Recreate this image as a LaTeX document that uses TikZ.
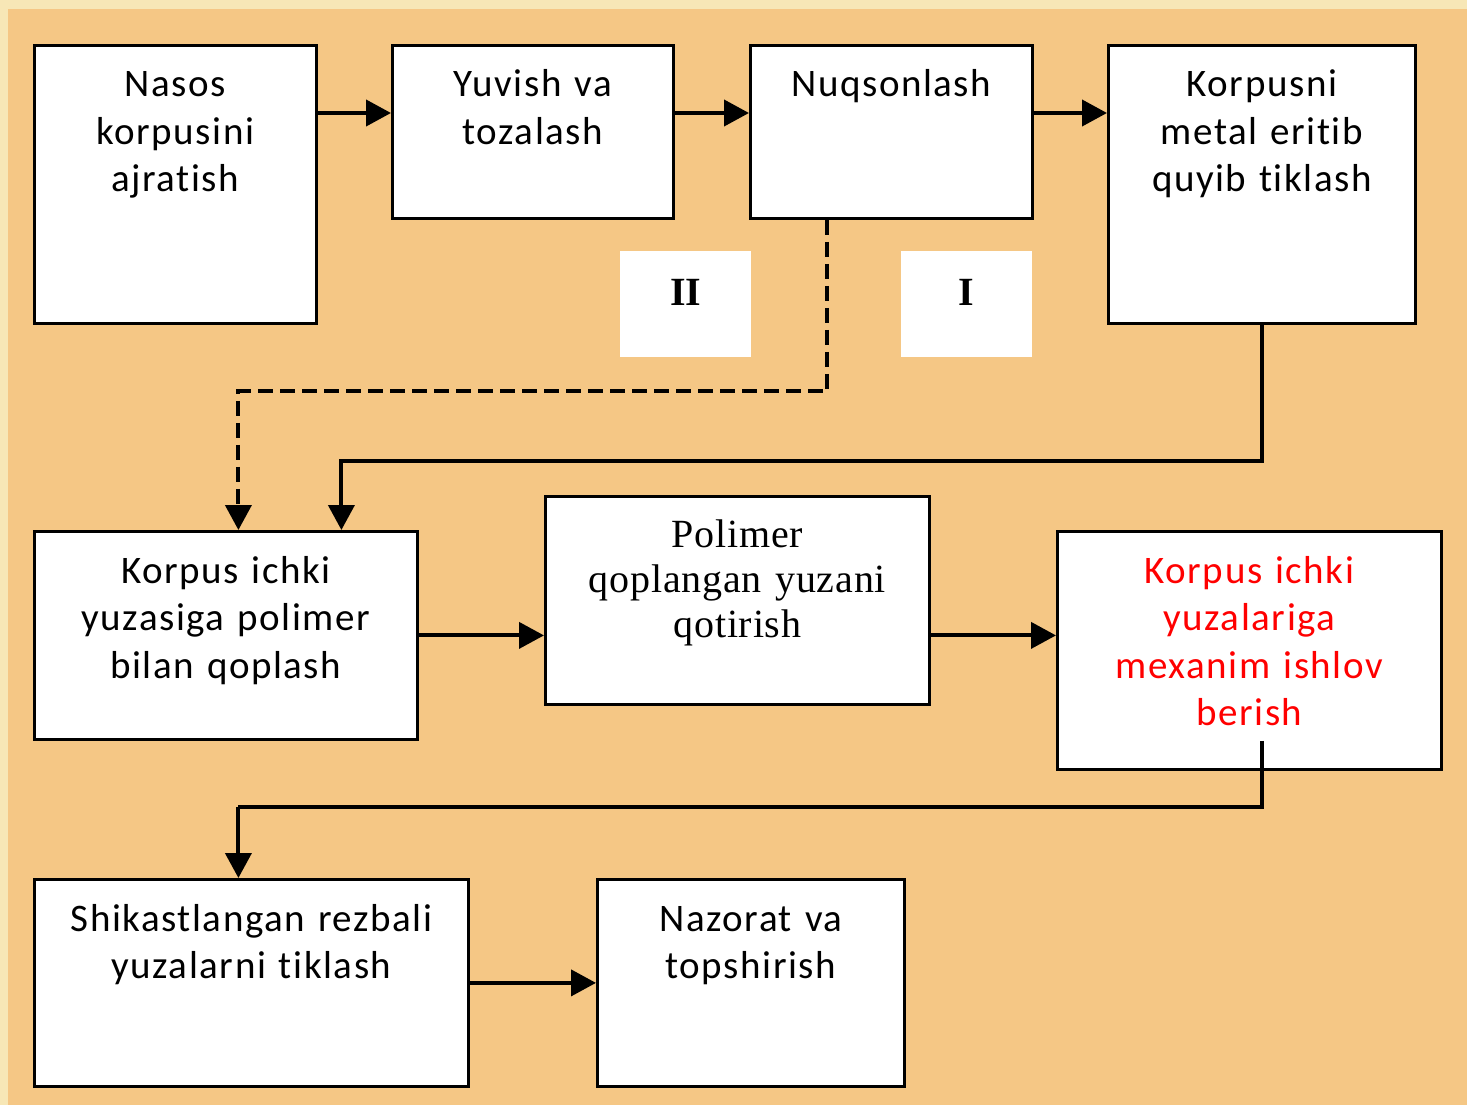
\documentclass[tikz,border=0pt]{standalone}
\usepackage{fontspec}
\setmainfont[Ligatures=NoCommon, LetterSpace=4]{Carlito}
\newfontfamily\timesf[LetterSpace=2]{Liberation Serif}
\newfontfamily\timesbf{Liberation Serif}
\usetikzlibrary{arrows.meta}
\definecolor{bgtan}{HTML}{F5C785}
\definecolor{bgcream}{HTML}{F7E7B6}
\definecolor{txtred}{HTML}{FF0000}
\begin{document}
\begin{tikzpicture}[x=1pt, y=-1pt,
    box/.style={draw, line width=2.8pt, fill=white, anchor=north west, inner sep=0pt},
    rim/.style={fill=white, minimum width=131pt, minimum height=106pt, anchor=north west, inner sep=0pt},
    txt/.style={anchor=base, text width=300pt, align=center, inner sep=0pt,
      font=\fontsize{39}{47.5}\selectfont},
    serif/.style={font=\timesf\fontsize{40}{45}\selectfont},
    rimtxt/.style={font=\timesbf\bfseries\fontsize{40}{40}\selectfont, inner sep=0pt},
    arr/.style={line width=4pt, -{Triangle[length=25pt,width=26pt]}},
    dashln/.style={arr, dash pattern=on 15pt off 7pt}]
  \useasboundingbox (0,0) rectangle (1467,1105);
  \fill[bgcream] (0,0) rectangle (1467,1105);
  \fill[bgtan] (8,9) rectangle (1467,1105);
  % first row
  \node[box, minimum width=282pt, minimum height=278pt] (nasos) at (33,44) {};
  \node[box, minimum width=281pt, minimum height=173pt] (yuvish) at (391,44) {};
  \node[box, minimum width=282pt, minimum height=173pt] (nuqson) at (749,44) {};
  \node[box, minimum width=307pt, minimum height=278pt] (korpusni) at (1107,44) {};
  \node[txt] (nasos-t) at ([yshift=-53pt]nasos.north) {Nasos\\korpusini\\ajratish};
  \node[txt] (yuvish-t) at ([yshift=-53pt]yuvish.north) {Yuvish va\\tozalash};
  \node[txt] (nuqson-t) at ([yshift=-53pt]nuqson.north) {Nuqsonlash};
  \node[txt] (korpusni-t) at ([yshift=-53pt]korpusni.north) {Korpusni\\metal eritib\\quyib tiklash};
  % route marks
  \node[rim] (rimII) at (620,251) {};
  \node[rim] (rimI) at (901,251) {};
  \node[rimtxt] (rimII-t) at ([yshift=-41pt]rimII.north) {II};
  \node[rimtxt] (rimI-t) at ([yshift=-41pt]rimI.north) {I};
  % second row
  \node[box, minimum width=383pt, minimum height=208pt] (qoplash) at (33,530) {};
  \node[box, minimum width=384pt, minimum height=208pt] (polimer) at (544,495) {};
  \node[box, minimum width=384pt, minimum height=238pt] (mexanim) at (1056,530) {};
  \node[txt] (qoplash-t) at ([yshift=-53pt]qoplash.north) {Korpus ichki\\yuzasiga polimer\\bilan qoplash};
  \node[txt, serif] (polimer-t) at ([yshift=-52pt]polimer.north) {Polimer\\qoplangan yuzani\\qotirish};
  \node[txt, text=txtred] (mexanim-t) at ([yshift=-53pt]mexanim.north) {Korpus ichki\\yuzalariga\\mexanim ishlov\\berish};
  % third row
  \node[box, minimum width=434pt, minimum height=207pt] (shikast) at (33,878) {};
  \node[box, minimum width=307pt, minimum height=207pt] (nazorat) at (596,878) {};
  \node[txt, text width=420pt] (shikast-t) at ([yshift=-53pt]shikast.north) {Shikastlangan rezbali\\yuzalarni tiklash};
  \node[txt] (nazorat-t) at ([yshift=-53pt]nazorat.north) {Nazorat va\\topshirish};
  % connectors
  \draw[arr] ([yshift=-69pt]nasos.north east) -- ([yshift=-69pt]yuvish.north west);
  \draw[arr] ([yshift=-69pt]yuvish.north east) -- ([yshift=-69pt]nuqson.north west);
  \draw[arr] ([yshift=-69pt]nuqson.north east) -- ([yshift=-69pt]korpusni.north west);
  \draw[dashln] ([xshift=-64pt]nuqson.south) |- ([xshift=12.5pt,yshift=139pt]qoplash.north)
    -- ([xshift=12.5pt]qoplash.north);
  \draw[arr] (korpusni.south) |- ([xshift=115.5pt,yshift=69pt]qoplash.north)
    -- ([xshift=115.5pt]qoplash.north);
  \draw[arr] (qoplash.east) -- (qoplash.east -| polimer.west);
  \draw[arr] (polimer.east |- qoplash.east) -- (mexanim.west |- qoplash.east);
  \draw[arr, -] ([xshift=13pt,yshift=30pt]mexanim.south) |- ([xshift=-13pt,yshift=71pt]shikast.north);
  \draw[arr] ([xshift=-13pt,yshift=71pt]shikast.north) -- ([xshift=-13pt]shikast.north);
  \draw[arr] (shikast.east) -- (shikast.east -| nazorat.west);
\end{tikzpicture}
\end{document}
